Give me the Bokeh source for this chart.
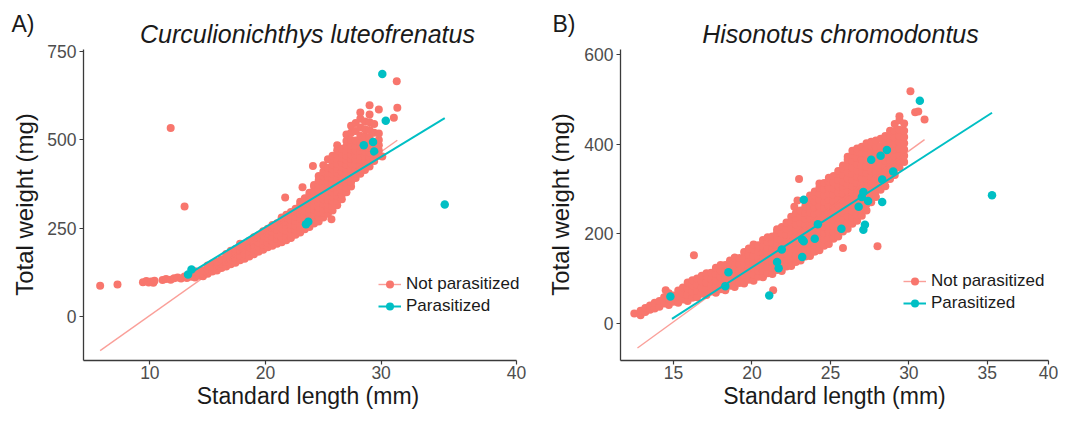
import math
from bokeh.plotting import figure
from bokeh.layouts import row
from bokeh.models import Legend, LegendItem, Label, FixedTicker, Range1d
from bokeh.embed import file_html
from bokeh.resources import INLINE

PINK = "#F8766D"
CYAN = "#00BFC4"
FONT = "Liberation Sans"
HEIGHT = 413
BOTTOM = 53          # bottom border shared by every figure of the row
FRAME_BOTTOM = HEIGHT - BOTTOM

# ---------------- Panel A: Curculionichthys luteofrenatus ----------------
# (standard length mm, [total weights mg])
a_not_parasitized = [
    (5.7, [87]), (7.2, [90]), (9.4, [97]), (9.7, [100]), (9.9, [96]), (10.1, [99]),
    (10.3, [95]), (10.4, [101]), (11.1, [103]), (11.4, [106]), (11.8, [104, 534]),
    (12.1, [108]), (12.4, [110]), (12.7, [107]), (13.0, [113, 311]), (13.2, [109]),
    (13.6, [112, 122]), (13.9, [110, 119, 128]), (14.3, [115, 126]), (14.6, [114, 121, 131]),
    (15.0, [121, 133, 144]), (15.4, [127, 140, 150]), (15.8, [130, 143, 155]),
    (16.2, [137, 150, 162]), (16.6, [141, 154, 167, 177]), (17.0, [148, 161, 174, 186]),
    (17.4, [152, 165, 178, 191]), (17.8, [159, 172, 185, 198, 206]),
    (18.2, [163, 176, 189, 202]), (18.6, [170, 183, 196, 209, 214]),
    (19.0, [176, 189, 202, 215, 224]), (19.4, [183, 196, 209, 222, 230]),
    (19.8, [189, 202, 215, 228, 241]), (20.2, [196, 209, 222, 235, 248]),
    (20.6, [200, 213, 226, 239, 252, 259]), (21.0, [206, 219, 232, 245, 258, 264]),
    (21.4, [210, 223, 236, 249, 262, 275, 280]), (21.7, [337]),
    (21.8, [216, 229, 242, 255, 268, 281, 288]), (22.2, [222, 235, 248, 261, 274, 287, 296]),
    (22.6, [231, 244, 257, 270, 283, 296, 305]),
    (23.0, [238, 251, 264, 277, 290, 303, 316, 325]), (23.2, [366]),
    (23.4, [247, 260, 273, 286, 299, 312, 325, 335]),
    (23.8, [253, 266, 279, 292, 305, 318, 331, 344, 350]), (24.1, [426]),
    (24.2, [263, 276, 289, 302, 315, 328, 341, 354, 367, 372]),
    (24.6, [269, 282, 295, 308, 321, 334, 347, 360, 373, 386, 398]),
    (25.0, [280, 293, 306, 319, 332, 345, 358, 371, 384, 397, 410, 428]),
    (25.4, [291, 304, 317, 330, 343, 356, 369, 382, 395, 408, 421, 445]), (25.7, [275]),
    (25.8, [300, 313, 326, 339, 352, 365, 378, 391, 404, 417, 430, 443, 455]),
    (26.2, [315, 328, 341, 354, 367, 380, 393, 406, 419, 432, 445, 458, 471, 485]),
    (26.6, [332, 345, 358, 371, 384, 397, 410, 423, 436, 449, 462, 475]),
    (27.0, [352, 365, 378, 391, 404, 417, 430, 443, 456, 469, 482, 497, 515]),
    (27.4, [368, 381, 394, 407, 420, 433, 446, 459, 472, 485, 500, 520, 540]),
    (27.8, [392, 405, 418, 431, 444, 457, 470, 483, 498, 525, 548]),
    (28.2, [404, 417, 430, 443, 456, 469, 482, 495, 512, 535, 560, 578]),
    (28.6, [415, 428, 441, 454, 467, 480, 493, 510, 530, 552]),
    (29.0, [425, 438, 451, 464, 477, 492, 508, 528, 550, 572, 598]),
    (29.4, [440, 453, 466, 479, 495, 520, 545]), (29.8, [455, 470, 485, 500, 518, 586]),
    (30.1, [453]), (31.1, [563]), (31.35, [666]), (31.4, [591]),
]
a_parasitized = [
    (13.3, [119]), (13.6, [133]), (23.5, [261]), (23.7, [268]), (28.5, [485]),
    (29.3, [494]), (29.4, [467]), (30.1, [687]), (30.4, [554]), (35.5, [317]),
]
a_fit_not_x = [5.7, 31.4]
a_fit_not_y = [-97, 499]
a_fit_par_x = [13.3, 35.5]
a_fit_par_y = [119, 562]

# ---------------- Panel B: Hisonotus chromodontus ----------------
b_not_parasitized = [
    (12.5, [22]), (12.9, [18, 28]), (13.2, [25, 34]), (13.5, [30, 40]), (13.8, [33, 46]),
    (14.1, [37, 50]), (14.4, [44, 58]), (14.5, [74]), (14.7, [41, 55, 67]),
    (15.0, [48, 62]), (15.3, [46, 60, 73]), (15.6, [53, 67, 80]),
    (15.9, [50, 64, 78, 91]), (16.2, [57, 71, 85, 96]), (16.3, [152]),
    (16.5, [58, 72, 86, 100]), (16.8, [66, 80, 94, 106]), (17.1, [63, 77, 91, 105, 112]),
    (17.4, [71, 85, 99, 113]), (17.7, [68, 82, 96, 110, 124]),
    (18.0, [76, 90, 104, 118, 130]), (18.3, [74, 88, 102, 116, 130]),
    (18.6, [84, 98, 112, 126, 140]), (18.9, [81, 95, 109, 123, 137, 147]),
    (19.2, [90, 104, 118, 132, 146]), (19.5, [89, 103, 117, 131, 145, 159]),
    (19.8, [97, 111, 125, 139, 153, 167]), (20.1, [95, 109, 123, 137, 151, 165, 176]),
    (20.4, [104, 118, 132, 146, 160, 174]), (20.7, [103, 117, 131, 145, 159, 173, 186]),
    (21.0, [112, 126, 140, 154, 168, 182, 192]), (21.3, [110, 124, 138, 152, 166, 180, 194]),
    (21.35, [74]), (21.6, [119, 133, 147, 161, 175, 189, 203, 210]),
    (21.9, [117, 131, 145, 159, 173, 187, 201, 215]),
    (22.2, [127, 141, 155, 169, 183, 197, 211, 225]),
    (22.5, [128, 142, 156, 170, 184, 198, 212, 226, 238]), (22.7, [260]),
    (22.8, [137, 151, 165, 179, 193, 207, 221, 235, 246]), (22.9, [274]), (23.0, [322]),
    (23.1, [140, 154, 168, 182, 196, 210, 224, 238, 252]),
    (23.4, [149, 163, 177, 191, 205, 219, 233, 247, 261, 272]),
    (23.7, [150, 164, 178, 192, 206, 220, 234, 248, 262, 276, 285]),
    (24.0, [160, 174, 188, 202, 216, 230, 244, 258, 272, 286, 294]),
    (24.3, [163, 177, 191, 205, 219, 233, 247, 261, 275, 289, 303, 312]),
    (24.6, [173, 187, 201, 215, 229, 243, 257, 271, 285, 299, 313]),
    (24.9, [177, 191, 205, 219, 233, 247, 261, 275, 289, 303, 317, 325]),
    (25.2, [189, 203, 217, 231, 245, 259, 273, 287, 301, 315, 329]),
    (25.5, [194, 208, 222, 236, 250, 264, 278, 292, 306, 320, 334, 340]),
    (25.8, [168, 205, 219, 233, 247, 261, 275, 289, 303, 317, 331, 345, 352]),
    (26.1, [211, 225, 239, 253, 267, 281, 295, 309, 323, 337, 351, 365, 372]),
    (26.4, [222, 236, 250, 264, 278, 292, 306, 320, 334, 348, 362, 376, 385]),
    (26.7, [229, 243, 257, 271, 285, 299, 313, 327, 341, 355, 369, 383, 390]),
    (27.0, [240, 254, 268, 282, 296, 310, 324, 338, 352, 366, 380, 394]),
    (27.3, [252, 266, 280, 294, 308, 322, 336, 350, 364, 378, 392, 402]),
    (27.6, [270, 284, 298, 312, 326, 340, 354, 368, 382, 396, 405]),
    (27.9, [282, 296, 310, 324, 338, 352, 366, 380, 394, 408]), (28.0, [172]),
    (28.2, [298, 312, 326, 340, 354, 368, 382, 396, 412]),
    (28.5, [306, 320, 334, 348, 362, 376, 390, 404, 418]),
    (28.8, [322, 336, 350, 364, 378, 392, 406, 420, 430]),
    (29.1, [331, 345, 359, 373, 387, 401, 415, 429, 445]),
    (29.4, [348, 362, 376, 390, 404, 418, 432, 453, 462]),
    (29.7, [360, 374, 388, 402, 416, 430, 446]),
    (30.1, [518]), (30.4, [471]), (30.6, [473]), (31.0, [455]),
]
b_parasitized = [
    (14.8, [60]), (18.3, [83]), (18.5, [114]), (21.1, [62]), (21.6, [137]), (21.7, [123]),
    (21.9, [165]), (23.2, [148, 187]), (23.3, [276, 183]), (24.0, [189]), (24.2, [221]),
    (25.7, [211]), (26.8, [260]), (27.0, [282]), (27.1, [293, 209]), (27.2, [220]),
    (27.4, [273]), (27.6, [365]), (28.2, [374]), (28.3, [321, 271]), (28.6, [387]),
    (29.0, [339]), (30.7, [497]), (35.3, [286]),
]
b_fit_not_x = [12.7, 31.0]
b_fit_not_y = [-55, 410]
b_fit_par_x = [14.9, 35.3]
b_fit_par_y = [10, 470]

Y_LABEL = "Total weight (mg)"
X_LABEL = "Standard length (mm)"
LEGEND_LABELS = ["Not parasitized", "Parasitized"]


def expand(cols):
    xs, ys = [], []
    for x, vals in cols:
        for v in vals:
            xs.append(x)
            ys.append(v)
    return xs, ys


def side_strip(width, tag, tag_x, ylab_x):
    """Narrow strip holding the panel tag and the rotated y-axis title."""
    s = figure(width=width, height=HEIGHT, x_range=Range1d(0, width),
               y_range=Range1d(FRAME_BOTTOM, 0), output_backend="svg",
               toolbar_location=None, title=None,
               x_axis_location=None, y_axis_location=None,
               min_border_left=0, min_border_right=0, min_border_top=0,
               min_border_bottom=BOTTOM)
    s.outline_line_color = None
    s.grid.visible = False
    s.add_layout(Label(x=tag_x, y=23.5, text=tag, text_font=FONT,
                       text_font_size="23px", text_color="#1a1a1a",
                       text_baseline="middle"))
    s.add_layout(Label(x=ylab_x, y=204, text=Y_LABEL, angle=math.pi / 2,
                       text_font=FONT, text_font_size="24px", text_color="#1a1a1a",
                       text_align="center", text_baseline="middle"))
    return s


def make_panel(width, ml, mr, xr, xbounds, yr, ybounds, xticks, end_tick, yticks, title,
               title_x, not_par, par, fit_not, fit_par, legend_loc):
    p = figure(width=width, height=HEIGHT, x_range=Range1d(*xr), y_range=Range1d(*yr),
               output_backend="svg", toolbar_location=None, title=None,
               min_border_left=ml, min_border_right=mr, min_border_top=0,
               min_border_bottom=BOTTOM)
    p.outline_line_color = None
    p.grid.visible = False
    p.background_fill_color = "white"
    p.border_fill_color = "white"

    p.xaxis.axis_label = X_LABEL
    p.xaxis.bounds = xbounds
    p.yaxis.bounds = ybounds
    p.xaxis.ticker = FixedTicker(ticks=xticks + [end_tick])
    p.xaxis.major_label_overrides = {end_tick: "40"}
    p.yaxis.ticker = FixedTicker(ticks=yticks)
    for ax in (p.xaxis[0], p.yaxis[0]):
        ax.axis_line_color = "#3a3a3a"
        ax.axis_line_width = 1.3
        ax.major_tick_line_color = "#3a3a3a"
        ax.major_tick_line_width = 1.2
        ax.major_tick_out = 4
        ax.major_tick_in = 0
        ax.minor_tick_line_color = None
        ax.major_label_text_font = FONT
        ax.major_label_text_font_size = "17.5px"
        ax.major_label_text_color = "#4d4d4d"
        ax.axis_label_text_font = FONT
        ax.axis_label_text_font_style = "normal"
        ax.axis_label_text_color = "#1a1a1a"
    p.xaxis.axis_label_text_font_size = "23px"
    p.xaxis.major_label_standoff = 1
    p.xaxis.axis_label_standoff = 1
    p.yaxis.major_label_standoff = 3

    nx, ny = expand(not_par)
    px_, py_ = expand(par)
    r_np = p.scatter(nx, ny, marker="circle", size=8, fill_color=PINK, line_color=None)
    r_p = p.scatter(px_, py_, marker="circle", size=8.5, fill_color=CYAN, line_color=None)
    l_np = p.line(fit_not[0], fit_not[1], line_color=PINK, line_alpha=0.7, line_width=1.4)
    l_p = p.line(fit_par[0], fit_par[1], line_color=CYAN, line_width=2)

    legend = Legend(items=[LegendItem(label=LEGEND_LABELS[0], renderers=[l_np, r_np]),
                           LegendItem(label=LEGEND_LABELS[1], renderers=[l_p, r_p])],
                    location=legend_loc, orientation="vertical", padding=0, margin=0,
                    spacing=2, glyph_width=23, glyph_height=20, label_height=20,
                    label_standoff=5, label_text_font=FONT, label_text_font_size="17px",
                    label_text_color="#1a1a1a", border_line_color=None,
                    background_fill_alpha=0)
    p.add_layout(legend)

    # species name, drawn inside the (upward-extended) frame
    p.add_layout(Label(x=title_x, y=FRAME_BOTTOM - 33, x_units="screen", y_units="screen",
                       text=title, text_font=FONT, text_font_style="italic",
                       text_font_size="25px", text_color="#1a1a1a", text_align="center",
                       text_baseline="middle"))
    return p


sA = side_strip(44, "A)", 11, 24)
pA = make_panel(494, 38, 6, (4.26, 43.09), (4.26, 41.7), (-125, 895), (-125, 755),
                [10, 20, 30], 41.7, [0, 250, 500, 750], "Curculionichthys luteofrenatus",
                224, a_not_parasitized, a_parasitized, (a_fit_not_x, a_fit_not_y),
                (a_fit_par_x, a_fit_par_y), (295, 44))
sB = side_strip(43, "B)", 14, 22)
pB = make_panel(477, 37, 10, (11.62, 38.9), (11.62, 38.9), (-83, 720.5), (-83, 612),
                [15, 20, 25, 30, 35], 38.9, [0, 200, 400, 600], "Hisonotus chromodontus",
                220, b_not_parasitized, b_parasitized, (b_fit_not_x, b_fit_not_y),
                (b_fit_par_x, b_fit_par_y), (283, 47))

layout = row(sA, pA, sB, pB)
open("out.html", "w").write(file_html(layout, INLINE))
